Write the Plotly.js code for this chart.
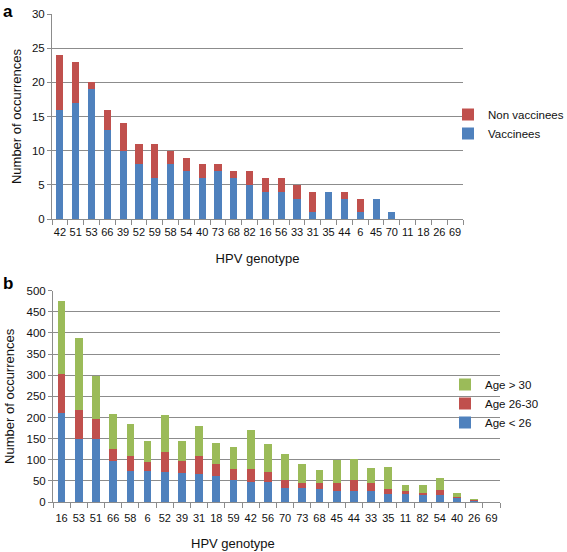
<!DOCTYPE html>
<html>
<head>
<meta charset="utf-8">
<script src="https://cdn.plot.ly/plotly-3.0.1.min.js"></script>
<style>
  html, body { margin: 0; padding: 0; background: #ffffff; }
  #chart { width: 567px; height: 552px; }
</style>
</head>
<body>
<div id="chart"></div>
<script>
// ---- Panel a data ----
const aGenotypes = ['42','51','53','66','39','52','59','58','54','40','73','68','82','16','56','33','31','35','44','6','45','70','11','18','26','69'];
const aVaccinees = [16,17,19,13,10,8,6,8,7,6,7,6,5,4,4,3,1,4,3,1,3,1,0,0,0,0];
const aNonVaccinees = [8,6,1,3,4,3,5,2,2,2,1,1,2,2,2,2,3,0,1,2,0,0,0,0,0,0];

// ---- Panel b data ----
const bGenotypes = ['16','53','51','66','58','6','52','39','31','18','59','42','56','70','73','68','45','44','33','35','11','82','54','40','26','69'];
const bAgeUnder26 = [210,149,148,96,74,73,71,69,66,62,52,48,48,33,33,30,27,27,25,19,20,17,16,10,2,0];
const bAge26to30 = [94,68,49,30,36,21,47,29,43,27,27,30,24,19,11,15,17,25,19,12,7,4,13,2,2,0];
const bAgeOver30 = [171,172,102,82,75,51,87,47,72,51,50,93,65,62,47,30,55,50,37,52,14,20,27,10,3,1];

const BLUE = '#4F81BD', RED = '#C0504D', GREEN = '#9BBB59';
const FONT = 'Liberation Sans, Arial, Helvetica, sans-serif';
const TXT = '#111111';
const W = 567, H = 552;
const px = v => v / W;
const py = v => 1 - v / H;

const traces = [
  {type:'bar', name:'Vaccinees', x:aGenotypes, y:aVaccinees, xaxis:'x', yaxis:'y', marker:{color:BLUE}, legend:'legend', hoverinfo:'skip'},
  {type:'bar', name:'Non vaccinees', x:aGenotypes, y:aNonVaccinees, xaxis:'x', yaxis:'y', marker:{color:RED}, legend:'legend', hoverinfo:'skip'},
  {type:'bar', name:'Age < 26', x:bGenotypes, y:bAgeUnder26, xaxis:'x2', yaxis:'y2', marker:{color:BLUE}, legend:'legend2', hoverinfo:'skip'},
  {type:'bar', name:'Age 26-30', x:bGenotypes, y:bAge26to30, xaxis:'x2', yaxis:'y2', marker:{color:RED}, legend:'legend2', hoverinfo:'skip'},
  {type:'bar', name:'Age > 30', x:bGenotypes, y:bAgeOver30, xaxis:'x2', yaxis:'y2', marker:{color:GREEN}, legend:'legend2', hoverinfo:'skip'}
];

const catAxis = {
  type:'category', tickson:'boundaries', ticks:'outside', ticklen:5, tickcolor:'#8c8c8c', tickangle:0,
  showline:true, linecolor:'#8c8c8c', linewidth:1, showgrid:false,
  tickfont:{family:FONT, size:11, color:TXT}, fixedrange:true
};
const valAxis = {
  showline:true, linecolor:'#8c8c8c', linewidth:1, ticks:'outside', ticklen:4, tickcolor:'#8c8c8c',
  showgrid:true, gridcolor:'#8c8c8c', gridwidth:1, zeroline:false,
  tickfont:{family:FONT, size:11.5, color:TXT}, fixedrange:true
};

const layout = {
  width:W, height:H,
  margin:{l:0, r:0, t:0, b:0, autoexpand:false},
  paper_bgcolor:'#ffffff', plot_bgcolor:'#ffffff',
  barmode:'stack', bargap:0.55,
  font:{family:FONT, color:TXT},
  xaxis: Object.assign({}, catAxis, {domain:[px(52), px(463)], anchor:'y', ticklabelstandoff:3,
    title:{text:'HPV genotype', font:{family:FONT, size:13, color:TXT}, standoff:16}}),
  yaxis: Object.assign({}, valAxis, {domain:[py(219), py(14)], anchor:'x', range:[0,30], dtick:5,
    title:{text:'Number of occurrences', font:{family:FONT, size:13, color:TXT}, standoff:7}}),
  xaxis2: Object.assign({}, catAxis, {domain:[px(53), px(500)], anchor:'y2', ticklabelstandoff:6}),
  yaxis2: Object.assign({}, valAxis, {domain:[py(502), py(290.7)], anchor:'x2', range:[0,500], dtick:50,
    title:{text:'Number of occurrences', font:{family:FONT, size:13, color:TXT}, standoff:8}}),
  legend:{x:px(448), y:py(100), xanchor:'left', yanchor:'top', traceorder:'reversed',
    font:{family:FONT, size:11.5, color:TXT}, bgcolor:'rgba(0,0,0,0)', itemwidth:30, tracegroupgap:0},
  legend2:{x:px(445), y:py(370), xanchor:'left', yanchor:'top', traceorder:'reversed',
    font:{family:FONT, size:11.5, color:TXT}, bgcolor:'rgba(0,0,0,0)', itemwidth:30, tracegroupgap:0},
  showlegend:true,
  annotations:[
    {text:'<b>a</b>', x:px(1), y:py(0), xref:'paper', yref:'paper', xanchor:'left', yanchor:'top', showarrow:false,
      font:{family:FONT, size:17, color:'#000'}},
    {text:'<b>b</b>', x:px(1), y:py(272), xref:'paper', yref:'paper', xanchor:'left', yanchor:'top', showarrow:false,
      font:{family:FONT, size:17, color:'#000'}},
    {text:'HPV genotype', x:px(233), y:py(543), xref:'paper', yref:'paper', xanchor:'center', yanchor:'middle', showarrow:false,
      font:{family:FONT, size:13, color:TXT}}
  ]
};

Plotly.newPlot('chart', traces, layout, {displayModeBar:false, staticPlot:true});
</script>
</body>
</html>
